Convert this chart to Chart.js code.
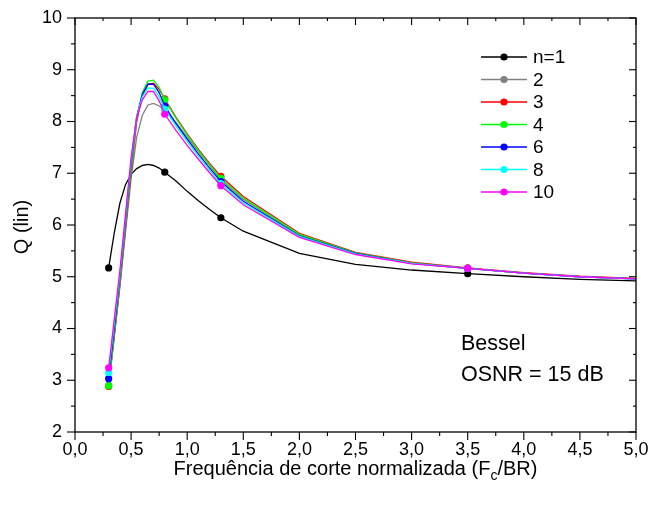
<!DOCTYPE html>
<html><head><meta charset="utf-8">
<script src="https://cdn.jsdelivr.net/npm/chart.js@4"></script>
<style>html,body{margin:0;padding:0;background:#fff}#wrap{width:648px;height:505px}</style>
</head><body><div id="wrap"><canvas id="c" width="648" height="505"></canvas></div>
<script>
const xs = [0.3,0.35,0.4,0.45,0.5,0.55,0.6,0.65,0.7,0.75,0.8,0.9,1.0,1.1,1.2,1.3,1.5,2.0,2.5,3.0,3.5,4.0,4.5,5.0];
const markerX = [0.3,0.8,1.3,3.5];
const seriesLabels = ['n=1','2','3','4','6','8','10'];
const q1  = [5.17,5.85,6.42,6.78,6.98,7.09,7.15,7.17,7.15,7.10,7.02,6.85,6.65,6.47,6.30,6.14,5.88,5.45,5.24,5.13,5.06,5.00,4.95,4.92];
const q2  = [2.90,3.85,4.80,5.85,6.90,7.70,8.12,8.32,8.35,8.30,8.22,7.98,7.70,7.42,7.15,6.88,6.50,5.81,5.45,5.26,5.16,5.07,5.00,4.96];
const q3  = [2.88,3.85,4.85,5.95,7.00,8.00,8.50,8.72,8.74,8.62,8.44,8.08,7.76,7.46,7.19,6.94,6.55,5.84,5.47,5.28,5.17,5.08,5.01,4.97];
const q4  = [2.89,3.90,4.90,6.00,7.08,8.05,8.56,8.78,8.80,8.66,8.42,8.06,7.74,7.44,7.16,6.90,6.52,5.82,5.46,5.27,5.16,5.07,5.00,4.96];
const q6  = [3.03,4.00,5.00,6.10,7.20,8.10,8.52,8.72,8.72,8.56,8.30,7.96,7.66,7.37,7.10,6.84,6.46,5.79,5.45,5.26,5.16,5.07,5.00,4.96];
const q8  = [3.15,4.10,5.05,6.15,7.25,8.10,8.48,8.65,8.64,8.48,8.24,7.91,7.61,7.33,7.06,6.80,6.43,5.78,5.44,5.26,5.16,5.07,5.00,4.96];
const q10 = [3.24,4.18,5.12,6.20,7.30,8.08,8.42,8.58,8.58,8.40,8.14,7.83,7.54,7.27,7.01,6.76,6.39,5.76,5.43,5.25,5.16,5.07,5.00,4.96];
const xTicks = [0,0.5,1.0,1.5,2.0,2.5,3.0,3.5,4.0,4.5,5.0];
const yTicks = [2,3,4,5,6,7,8,9,10];
const xTitle = ['Frequência de corte normalizada (F','c','/BR)'];
const yTitle = 'Q (lin)';
const note = ['Bessel','OSNR = 15 dB'];

const colors = ['#000000','#808080','#ff0000','#00ff00','#0000ff','#00ffff','#ff00ff'];
const allQ = [q1,q2,q3,q4,q6,q8,q10];
const FONT = '"Liberation Sans", Arial, sans-serif';

const datasets = allQ.map((q,i)=>({
  label: seriesLabels[i],
  data: xs.map((x,j)=>({x:x,y:q[j]})),
  borderColor: colors[i],
  backgroundColor: colors[i],
  borderWidth: 1.3,
  pointRadius: xs.map(x=>markerX.some(m=>Math.abs(m-x)<1e-9)?3.6:0),
  pointBorderWidth: 0,
  pointHoverRadius: 0,
  tension: 0,
  order: allQ.length - i
}));

const frame = {
  id:'frame',
  afterDatasetsDraw(chart){
    const {ctx, chartArea:a, scales:{x,y}} = chart;
    ctx.save();
    ctx.strokeStyle='#000'; ctx.lineWidth=1.3;
    ctx.strokeRect(a.left,a.top,a.right-a.left,a.bottom-a.top);
    ctx.lineWidth=1.1;
    const ln=(x1,y1,x2,y2)=>{ctx.beginPath();ctx.moveTo(x1,y1);ctx.lineTo(x2,y2);ctx.stroke();};
    for(let k=0;k<=20;k++){
      const v=k*0.25, px=x.getPixelForValue(v), L=(k%2===0)?8:4;
      ln(px,a.bottom,px,a.bottom+L);
      ln(px,a.top,px,a.top+L-1);
    }
    for(let k=0;k<=16;k++){
      const v=2+k*0.5, py=y.getPixelForValue(v), L=(k%2===0)?8:4;
      ln(a.left-L,py,a.left,py);
      ln(a.right-L+1,py,a.right,py);
    }
    ctx.restore();
  },
  afterDraw(chart){
    const {ctx, chartArea:a} = chart;
    ctx.save();
    ctx.fillStyle='#000';
    ctx.font='20px '+FONT;
    ctx.textAlign='center'; ctx.textBaseline='middle';
    ctx.translate(22,(a.top+a.bottom)/2+2);
    ctx.rotate(-Math.PI/2);
    ctx.fillText(yTitle,0,0);
    ctx.setTransform(1,0,0,1,0,0);
    const big='20px '+FONT, small='14px '+FONT;
    ctx.font=big; const w0=ctx.measureText(xTitle[0]).width, w2=ctx.measureText(xTitle[2]).width;
    ctx.font=small; const w1=ctx.measureText(xTitle[1]).width;
    let sx=(a.left+a.right)/2-(w0+w1+w2)/2; const by=475;
    ctx.textAlign='left'; ctx.textBaseline='alphabetic';
    ctx.font=big; ctx.fillText(xTitle[0],sx,by); sx+=w0;
    ctx.font=small; ctx.fillText(xTitle[1],sx,by+5); sx+=w1;
    ctx.font=big; ctx.fillText(xTitle[2],sx,by);
    ctx.font='21.5px '+FONT; ctx.textBaseline='middle';
    ctx.fillText(note[0],461,344);
    ctx.fillText(note[1],461,375);
    ctx.font='19px '+FONT;
    chart.data.datasets.forEach((ds,i)=>{
      const yy=57+i*22.5;
      ctx.strokeStyle=ds.borderColor; ctx.lineWidth=1.3;
      ctx.beginPath(); ctx.moveTo(481,yy); ctx.lineTo(527,yy); ctx.stroke();
      ctx.fillStyle=ds.borderColor;
      ctx.beginPath(); ctx.arc(504,yy,3.6,0,Math.PI*2); ctx.fill();
      ctx.fillStyle='#000';
      ctx.fillText(ds.label,533,yy+1);
    });
    ctx.restore();
  }
};

new Chart(document.getElementById('c'),{
  type:'line',
  data:{datasets},
  options:{
    responsive:false, animation:false,
    layout:{padding:{left:0,right:12,top:18,bottom:0}},
    plugins:{legend:{display:false},tooltip:{enabled:false}},
    scales:{
      x:{type:'linear',min:0,max:5,
        afterBuildTicks:s=>{s.ticks=xTicks.map(v=>({value:v}));},
        afterFit:s=>{s.height=73;s.paddingLeft=0;s.paddingRight=0;},
        grid:{display:false,drawTicks:false},border:{display:false},
        ticks:{color:'#000',font:{family:FONT,size:18},padding:7,maxRotation:0,autoSkip:false,
          callback:v=>v.toFixed(1).replace('.',',')}},
      y:{type:'linear',min:2,max:10,
        afterBuildTicks:s=>{s.ticks=yTicks.map(v=>({value:v}));},
        afterFit:s=>{s.width=75;s.paddingTop=0;s.paddingBottom=0;},
        grid:{display:false,drawTicks:false},border:{display:false},
        ticks:{color:'#000',font:{family:FONT,size:18},padding:13,autoSkip:false,
          callback:v=>String(v)}}
    }
  },
  plugins:[frame]
});
</script></body></html>
